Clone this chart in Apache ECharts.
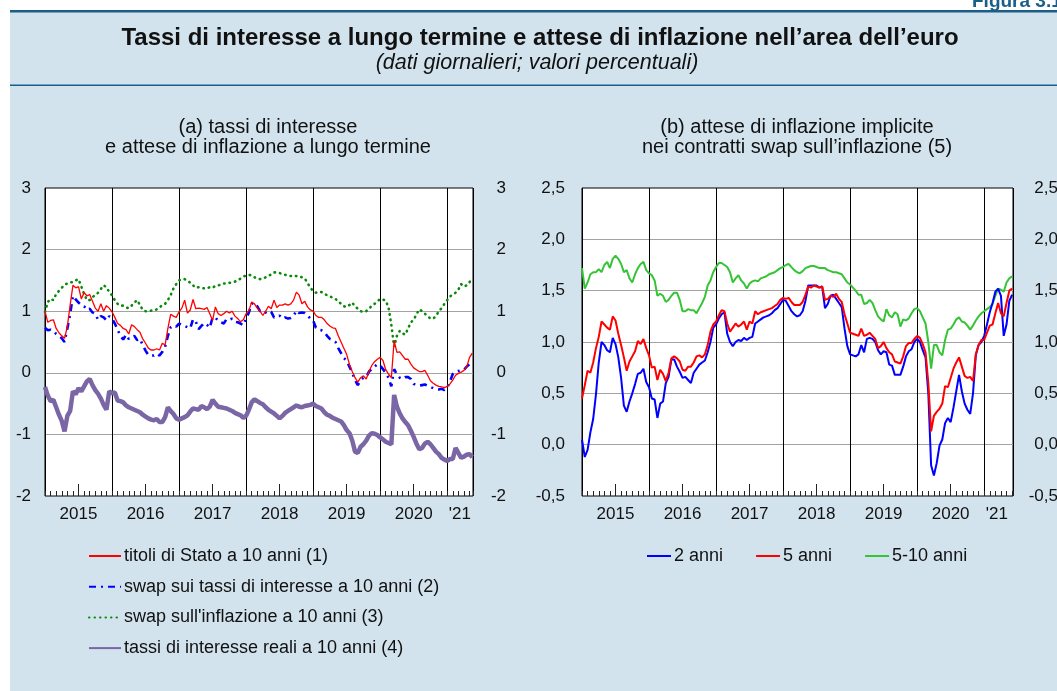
<!DOCTYPE html>
<html><head><meta charset="utf-8">
<script src="https://cdn.jsdelivr.net/npm/echarts@6/dist/echarts.min.js"></script>
<style>html,body{margin:0;padding:0;background:#fff}#c{width:1057px;height:691px}</style>
</head><body><div id="c"></div>
<script>
// ---- time index: half-monthly sampling starting Jan 2015 ----
const START_YEAR = 2015;
const STEP = 1 / 24;

// ---- x-axis labels (centred on mid-year) ----
const yearLabels = ['2015', '2016', '2017', '2018', '2019', '2020', "'21"];
const yearLabelPos = [2015.5, 2016.5, 2017.5, 2018.5, 2019.5, 2020.5, 2021.19];
const midYearTicks = [2015.5, 2016.5, 2017.5, 2018.5, 2019.5, 2020.5];

// ---- panel (a): long-term interest rates and inflation expectations ----
const seriesNamesA = ['titoli di Stato a 10 anni (1)', 'swap sui tassi di interesse a 10 anni (2)', "swap sull'inflazione a 10 anni (3)", 'tassi di interesse reali a 10 anni (4)'];
const govBond10y = [
  1.0,0.82,0.85,0.86,0.72,0.65,0.6,0.56,0.75,1.1,1.42,1.38,1.4,1.2,1.3,1.25,1.27,1.16,1.05,1.0,1.12,1.0,1.09,1.05,
  0.99,0.9,0.8,0.77,0.72,0.7,0.63,0.78,0.75,0.7,0.66,0.55,0.48,0.4,0.37,0.37,0.39,0.37,0.48,0.45,0.72,0.95,0.92,0.9,
  0.99,1.05,1.18,0.97,1.02,1.19,1.04,1.05,1.04,1.03,1.06,0.96,0.85,1.07,0.96,0.93,0.96,1.0,0.97,1.0,0.92,0.88,0.83,0.86,
  0.96,1.01,1.15,1.12,1.05,1.0,0.93,1.0,1.08,1.04,1.18,1.06,1.1,1.1,1.12,1.1,1.12,1.18,1.31,1.26,1.12,1.16,1.07,1.02,
  1.0,0.93,0.9,0.9,0.86,0.8,0.76,0.73,0.72,0.6,0.5,0.4,0.3,0.14,0.02,-0.08,-0.15,-0.08,-0.05,-0.1,0.02,0.12,0.18,0.22,
  0.25,0.2,0.05,-0.02,-0.08,0.52,0.33,0.34,0.28,0.22,0.22,0.14,0.08,0.05,0.02,0.02,0.04,-0.04,-0.13,-0.17,-0.2,-0.22,-0.23,-0.24,
  -0.22,-0.18,-0.12,-0.04,-0.01,0.01,0.04,0.1,0.25,0.32
];
const irSwap10y = [
  0.73,0.69,0.7,0.68,0.63,0.6,0.56,0.5,0.72,0.95,1.25,1.19,1.14,1.1,1.08,1.02,1.04,0.98,0.96,0.86,0.92,0.9,0.85,0.92,
  0.88,0.8,0.7,0.6,0.54,0.62,0.55,0.58,0.6,0.53,0.55,0.45,0.36,0.29,0.28,0.28,0.31,0.28,0.34,0.42,0.6,0.74,0.77,0.75,
  0.8,0.77,0.76,0.74,0.72,0.87,0.83,0.71,0.76,0.81,0.78,0.73,0.9,0.9,0.84,0.82,0.8,0.87,0.86,0.88,0.83,0.82,0.8,0.77,
  0.88,0.98,1.12,1.14,1.08,1.0,0.97,0.98,1.01,0.99,0.9,0.9,0.93,0.88,0.9,0.88,0.89,0.92,1.01,0.97,0.98,0.97,0.93,0.88,
  0.85,0.73,0.7,0.69,0.66,0.6,0.55,0.53,0.5,0.4,0.32,0.24,0.2,0.1,0.0,-0.12,-0.2,-0.12,-0.08,-0.07,0.02,0.06,0.1,0.14,
  0.12,0.06,0.0,-0.08,-0.22,0.06,-0.03,-0.08,-0.1,-0.07,-0.07,-0.1,-0.18,-0.2,-0.21,-0.2,-0.19,-0.21,-0.23,-0.25,-0.26,-0.27,-0.26,-0.28,
  -0.24,-0.14,-0.02,0.02,0.03,0.04,0.05,0.1,0.14,0.18
];
const inflSwap10y = [
  0.99,1.15,1.2,1.18,1.28,1.33,1.38,1.43,1.45,1.47,1.47,1.5,1.52,1.4,1.28,1.18,1.18,1.23,1.26,1.3,1.36,1.42,1.39,1.31,
  1.26,1.18,1.12,1.09,1.09,1.06,1.05,1.09,1.14,1.18,1.1,1.02,1.0,1.0,1.01,1.01,1.03,1.06,1.1,1.12,1.18,1.26,1.37,1.44,
  1.5,1.52,1.52,1.5,1.46,1.42,1.38,1.39,1.38,1.37,1.37,1.39,1.38,1.41,1.42,1.43,1.45,1.45,1.46,1.47,1.48,1.5,1.53,1.56,
  1.58,1.59,1.58,1.55,1.53,1.52,1.53,1.55,1.57,1.6,1.63,1.63,1.62,1.6,1.59,1.58,1.57,1.58,1.57,1.57,1.55,1.53,1.46,1.38,
  1.33,1.3,1.31,1.31,1.28,1.26,1.24,1.22,1.2,1.16,1.12,1.08,1.07,1.1,1.14,1.08,1.04,1.0,0.99,1.0,1.04,1.09,1.12,1.16,
  1.2,1.19,1.17,1.06,0.78,0.42,0.6,0.68,0.64,0.62,0.72,0.82,0.86,0.95,1.03,1.0,0.96,0.92,0.88,0.88,0.92,1.0,1.05,1.12,
  1.18,1.24,1.27,1.3,1.35,1.44,1.4,1.42,1.47,1.55
];
const realRate10y = [
  -0.23,-0.37,-0.46,-0.44,-0.56,-0.68,-0.78,-0.95,-0.7,-0.62,-0.3,-0.35,-0.25,-0.3,-0.22,-0.14,-0.1,-0.2,-0.28,-0.34,-0.42,-0.52,-0.6,-0.3,
  -0.33,-0.32,-0.45,-0.46,-0.48,-0.53,-0.56,-0.58,-0.6,-0.62,-0.64,-0.68,-0.71,-0.74,-0.76,-0.77,-0.75,-0.8,-0.8,-0.72,-0.56,-0.62,-0.67,-0.74,
  -0.76,-0.74,-0.72,-0.69,-0.63,-0.58,-0.59,-0.6,-0.54,-0.56,-0.59,-0.55,-0.44,-0.5,-0.55,-0.56,-0.57,-0.58,-0.6,-0.62,-0.65,-0.67,-0.69,-0.73,
  -0.7,-0.6,-0.48,-0.43,-0.46,-0.49,-0.51,-0.56,-0.6,-0.63,-0.66,-0.7,-0.74,-0.7,-0.65,-0.62,-0.59,-0.56,-0.53,-0.55,-0.56,-0.54,-0.53,-0.52,
  -0.5,-0.54,-0.56,-0.58,-0.64,-0.68,-0.7,-0.73,-0.75,-0.77,-0.79,-0.85,-0.93,-0.98,-1.1,-1.28,-1.3,-1.2,-1.16,-1.1,-1.02,-0.98,-0.99,-1.01,
  -1.05,-1.08,-1.12,-1.14,-1.16,-0.36,-0.55,-0.66,-0.74,-0.8,-0.85,-0.94,-1.04,-1.15,-1.24,-1.22,-1.15,-1.12,-1.16,-1.22,-1.28,-1.32,-1.38,-1.41,
  -1.43,-1.4,-1.4,-1.22,-1.3,-1.38,-1.36,-1.33,-1.32,-1.37
];

// ---- panel (b): implied inflation expectations from inflation swaps ----
const seriesNamesB = ['2 anni', '5 anni', '5-10 anni'];
const infl2y = [
  0.05,-0.12,-0.05,0.12,0.25,0.49,0.8,1.0,0.97,0.92,0.9,1.04,0.98,0.85,0.65,0.38,0.32,0.42,0.5,0.59,0.69,0.7,0.74,0.61,
  0.56,0.45,0.44,0.26,0.4,0.42,0.6,0.66,0.83,0.83,0.76,0.71,0.65,0.66,0.63,0.6,0.7,0.74,0.78,0.8,0.82,0.9,1.0,1.14,
  1.17,1.23,1.27,1.29,1.08,1.0,0.96,1.0,1.02,1.01,1.04,1.02,1.04,1.05,1.18,1.2,1.22,1.24,1.25,1.26,1.28,1.31,1.33,1.37,
  1.41,1.4,1.35,1.3,1.27,1.25,1.26,1.3,1.4,1.55,1.55,1.55,1.55,1.53,1.54,1.33,1.37,1.45,1.46,1.42,1.38,1.34,1.13,0.96,
  0.88,0.87,0.86,0.88,0.97,0.9,1.03,1.04,1.03,1.0,0.92,0.88,0.91,0.9,0.78,0.77,0.68,0.68,0.68,0.76,0.86,0.91,0.93,1.0,
  1.03,1.0,0.92,0.85,0.5,-0.2,-0.3,-0.18,-0.01,0.05,0.21,0.26,0.22,0.36,0.52,0.68,0.52,0.4,0.34,0.3,0.5,0.87,0.97,1.0,
  1.06,1.17,1.29,1.38,1.49,1.52,1.45,1.06,1.17,1.4,1.46
];
const infl5y = [
  0.45,0.58,0.72,0.7,0.8,0.94,1.05,1.2,1.17,1.14,1.12,1.25,1.21,1.08,0.97,0.85,0.72,0.81,0.86,0.91,1.01,0.98,1.03,0.94,
  0.87,0.75,0.76,0.63,0.73,0.69,0.62,0.7,0.84,0.86,0.84,0.81,0.73,0.72,0.76,0.76,0.8,0.86,0.87,0.85,0.88,0.97,1.1,1.17,
  1.2,1.26,1.31,1.3,1.18,1.1,1.14,1.18,1.15,1.17,1.2,1.12,1.2,1.18,1.3,1.27,1.29,1.3,1.31,1.32,1.33,1.35,1.37,1.41,
  1.43,1.42,1.43,1.39,1.36,1.36,1.36,1.39,1.46,1.54,1.53,1.55,1.54,1.53,1.54,1.41,1.42,1.45,1.44,1.47,1.42,1.39,1.27,1.18,
  1.09,1.08,1.07,1.06,1.13,1.06,1.07,1.09,1.06,1.03,0.94,0.96,1.0,0.94,0.9,0.88,0.81,0.8,0.79,0.86,0.96,0.99,0.99,1.03,
  1.06,1.04,0.98,0.9,0.6,0.13,0.28,0.32,0.35,0.4,0.57,0.56,0.65,0.74,0.8,0.85,0.76,0.67,0.65,0.66,0.62,0.88,0.97,1.02,
  1.02,1.09,1.16,1.17,1.28,1.38,1.28,1.25,1.38,1.5,1.52
];
const infl5y5y = [
  1.72,1.52,1.58,1.66,1.68,1.68,1.71,1.68,1.75,1.78,1.72,1.81,1.84,1.81,1.76,1.68,1.7,1.62,1.58,1.66,1.72,1.76,1.78,1.7,
  1.67,1.65,1.6,1.45,1.47,1.45,1.39,1.41,1.45,1.48,1.48,1.41,1.3,1.3,1.32,1.31,1.31,1.28,1.33,1.38,1.44,1.55,1.6,1.68,
  1.73,1.77,1.77,1.75,1.73,1.68,1.58,1.62,1.65,1.6,1.57,1.52,1.57,1.59,1.6,1.59,1.62,1.63,1.64,1.66,1.67,1.68,1.7,1.72,
  1.73,1.75,1.76,1.73,1.7,1.68,1.67,1.69,1.72,1.73,1.74,1.74,1.73,1.72,1.72,1.72,1.7,1.69,1.68,1.68,1.67,1.66,1.62,1.58,
  1.56,1.53,1.5,1.46,1.46,1.37,1.38,1.41,1.38,1.31,1.25,1.22,1.2,1.32,1.26,1.24,1.29,1.27,1.15,1.22,1.21,1.23,1.28,1.32,
  1.33,1.3,1.24,1.18,1.0,0.74,0.97,0.97,0.9,0.87,1.02,1.12,1.13,1.17,1.22,1.24,1.2,1.19,1.16,1.12,1.16,1.21,1.25,1.28,
  1.3,1.32,1.34,1.37,1.45,1.52,1.51,1.49,1.58,1.62,1.64
];

// ---- helpers ----
const toPoints = arr => arr.map((v, i) => [START_YEAR + i * STEP, v]);
const FONT = "'Liberation Sans', Arial, Helvetica, sans-serif";
const TXT = '#111';
const commaFmt = v => (v < 0 ? '-' : '') + Math.abs(v).toFixed(1).replace('.', ',');

function xAxesFor(g, maxT) {
  const base = { type: 'value', gridIndex: g, min: 2015, max: maxT, position: 'bottom',
    axisLine: { show: false, onZero: false } };
  return [
    Object.assign({}, base, { interval: 1, axisTick: { show: false }, axisLabel: { show: false },
      splitLine: { show: true, lineStyle: { color: '#000', width: 1 } } }),
    Object.assign({}, base, { interval: 1 / 12, axisLabel: { show: false }, splitLine: { show: false },
      axisTick: { show: true, inside: true, length: 5, lineStyle: { color: '#222', width: 1 } } }),
    Object.assign({}, base, { splitLine: { show: false },
      axisTick: { show: true, inside: true, length: 12, customValues: midYearTicks, lineStyle: { color: '#222', width: 1 } },
      axisLabel: { show: true, customValues: yearLabelPos, margin: 10, fontSize: 17, color: TXT, fontFamily: FONT,
        formatter: v => { let best = 0; yearLabelPos.forEach((p, i) => { if (Math.abs(p - v) < Math.abs(yearLabelPos[best] - v)) best = i; }); return yearLabels[best]; } } })
  ];
}
function yAxesFor(g, mn, mx, step, fmt, leftMargin, rightMargin) {
  const common = { type: 'value', gridIndex: g, min: mn, max: mx, interval: step,
    axisLine: { show: false, onZero: false }, axisTick: { show: false } };
  return [
    Object.assign({}, common, { position: 'left',
      axisLabel: { fontSize: 17, color: TXT, fontFamily: FONT, margin: leftMargin, formatter: fmt },
      splitLine: { show: true, showMinLine: false, showMaxLine: false, lineStyle: { color: '#a3a3a3', width: 1 } } }),
    Object.assign({}, common, { position: 'right',
      axisLabel: { fontSize: 17, color: TXT, fontFamily: FONT, margin: rightMargin, align: 'right', formatter: fmt },
      splitLine: { show: false } })
  ];
}

const chart = echarts.init(document.getElementById('c'), null, { renderer: 'canvas' });
const lineBase = { type: 'line', showSymbol: false, symbol: 'none', smooth: false, animation: false };
const legendText = { fontSize: 18, color: TXT, fontFamily: FONT, padding: [0, 0, 0, -2] };

chart.setOption({
  animation: false,
  backgroundColor: '#d2e3ee',
  textStyle: { fontFamily: FONT },
  title: [
    { text: 'Tassi di interesse a lungo termine e attese di inflazione nell\u2019area dell\u2019euro', left: 540, top: 26, textAlign: 'center', padding: 0,
      textStyle: { fontSize: 24, fontWeight: 'bold', color: TXT, fontFamily: FONT } },
    { text: '(dati giornalieri; valori percentuali)', left: 537, top: 52, textAlign: 'center', padding: 0,
      textStyle: { fontSize: 21.5, fontStyle: 'italic', fontWeight: 'normal', color: TXT, fontFamily: FONT } },
    { text: '(a) tassi di interesse\ne attese di inflazione a lungo termine', left: 268, top: 117, textAlign: 'center', padding: 0,
      textStyle: { fontSize: 20, fontWeight: 'normal', color: TXT, lineHeight: 20, fontFamily: FONT } },
    { text: '(b) attese di inflazione implicite\nnei contratti swap sull\u2019inflazione (5)', left: 797, top: 117, textAlign: 'center', padding: 0,
      textStyle: { fontSize: 20, fontWeight: 'normal', color: TXT, lineHeight: 20, fontFamily: FONT } }
  ],
  graphic: [
    { type: 'rect', left: 0, top: 0, shape: { width: 1057, height: 10 }, style: { fill: '#fff' }, silent: true },
    { type: 'rect', left: 0, top: 0, shape: { width: 10, height: 691 }, style: { fill: '#fff' }, silent: true },
    { type: 'rect', left: 10, top: 10, shape: { width: 1047, height: 2.5 }, style: { fill: '#1b5e88' }, silent: true },
    { type: 'rect', left: 10, top: 84.5, shape: { width: 1047, height: 1.5 }, style: { fill: '#1b5e88' }, silent: true },
    { type: 'text', x: 972, y: -8, style: { text: 'Figura 3.1', fill: '#1b5e88', font: "bold 19px 'Liberation Sans', Arial, sans-serif", textVerticalAlign: 'top' }, silent: true }
  ],
  grid: [
    { left: 45, top: 188, width: 428, height: 308, show: true, backgroundColor: '#fff', borderColor: '#000', borderWidth: 1,
      containLabel: false, outerBoundsMode: 'none' },
    { left: 582, top: 188, width: 431, height: 308, show: true, backgroundColor: '#fff', borderColor: '#000', borderWidth: 1,
      containLabel: false, outerBoundsMode: 'none' }
  ],
  xAxis: xAxesFor(0, 2021.385).concat(xAxesFor(1, 2021.43)),
  yAxis: yAxesFor(0, -2, 3, 1, v => String(v), 14, 33).concat(yAxesFor(1, -0.5, 2.5, 0.5, commaFmt, 17, 45)),
  legend: [
    { data: [seriesNamesA[0], seriesNamesA[1], seriesNamesA[2], seriesNamesA[3]], orient: 'vertical', left: 88, top: 547,
      itemWidth: 32, itemHeight: 14, itemGap: 12.7, selectedMode: false, padding: 0,
      itemStyle: { color: 'transparent', borderWidth: 0, opacity: 0 },
      textStyle: legendText },
    { data: seriesNamesB, orient: 'horizontal', left: 646, top: 547,
      itemWidth: 24, itemHeight: 14, itemGap: 32, selectedMode: false, padding: 0,
      itemStyle: { color: 'transparent', borderWidth: 0, opacity: 0 },
      textStyle: legendText }
  ],
  series: [
    Object.assign({}, lineBase, { name: seriesNamesA[3], xAxisIndex: 0, yAxisIndex: 0, data: toPoints(realRate10y),
      lineStyle: { color: '#7a65a5', width: 4.5 }, itemStyle: { color: '#7a65a5' } }),
    Object.assign({}, lineBase, { name: seriesNamesA[2], xAxisIndex: 0, yAxisIndex: 0, data: toPoints(inflSwap10y),
      lineStyle: { color: '#0a8a0a', width: 2.6, type: [0.5, 5], cap: 'round' }, itemStyle: { color: '#0a8a0a' } }),
    Object.assign({}, lineBase, { name: seriesNamesA[1], xAxisIndex: 0, yAxisIndex: 0, data: toPoints(irSwap10y),
      lineStyle: { color: '#0000ff', width: 2.6, type: [7, 5, 2, 5] }, itemStyle: { color: '#0000ff' } }),
    Object.assign({}, lineBase, { name: seriesNamesA[0], xAxisIndex: 0, yAxisIndex: 0, data: toPoints(govBond10y),
      lineStyle: { color: '#ff0000', width: 1.3 }, itemStyle: { color: '#ff0000' } }),
    Object.assign({}, lineBase, { name: seriesNamesB[2], xAxisIndex: 3, yAxisIndex: 2, data: toPoints(infl5y5y),
      lineStyle: { color: '#35c435', width: 2 }, itemStyle: { color: '#35c435' } }),
    Object.assign({}, lineBase, { name: seriesNamesB[0], xAxisIndex: 3, yAxisIndex: 2, data: toPoints(infl2y),
      lineStyle: { color: '#0000ff', width: 2 }, itemStyle: { color: '#0000ff' } }),
    Object.assign({}, lineBase, { name: seriesNamesB[1], xAxisIndex: 3, yAxisIndex: 2, data: toPoints(infl5y),
      lineStyle: { color: '#ff0000', width: 2 }, itemStyle: { color: '#ff0000' } })
  ]
});
</script>
</body></html>
